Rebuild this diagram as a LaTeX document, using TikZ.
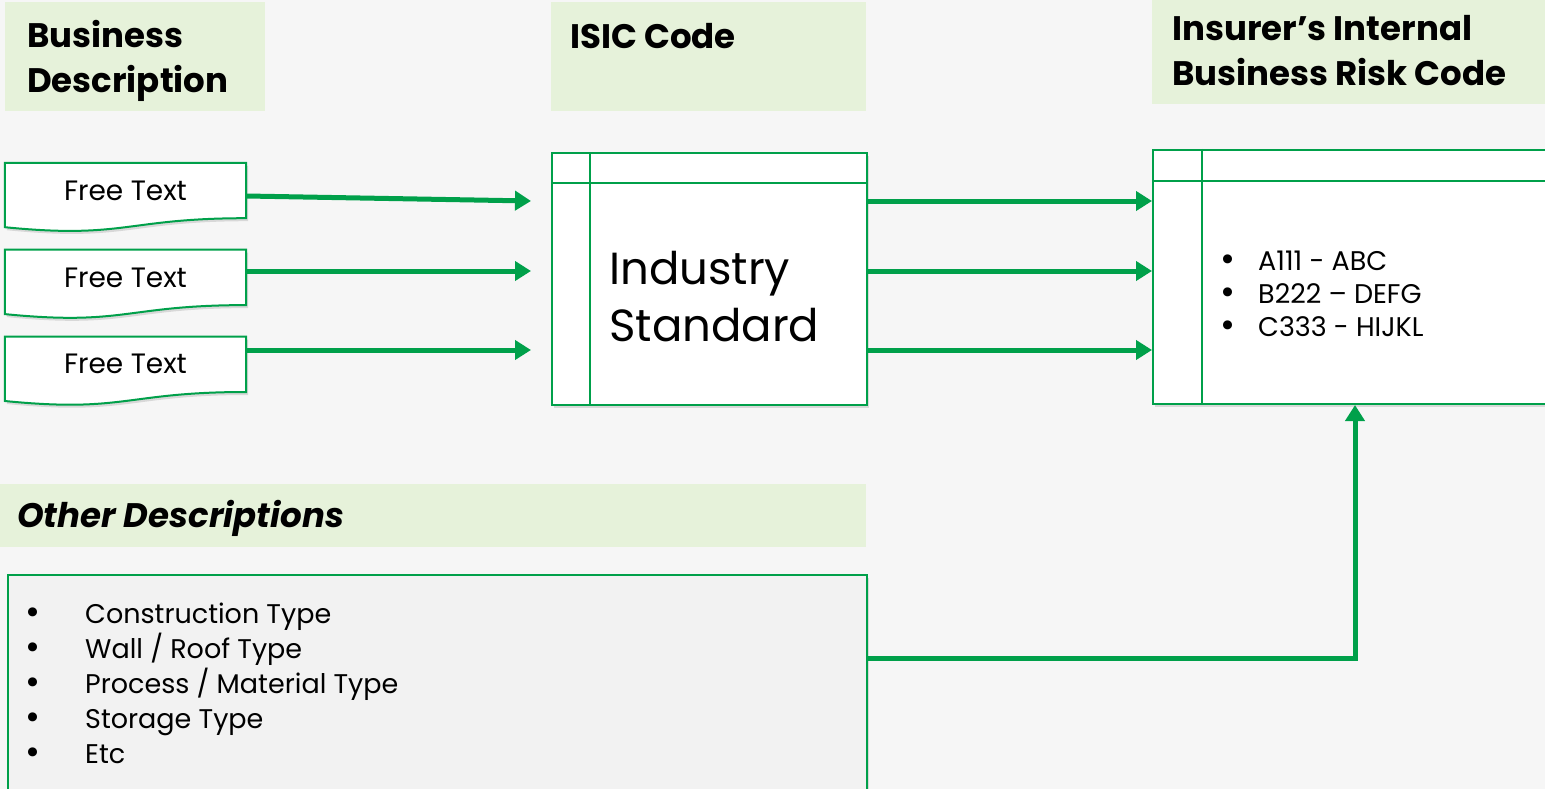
\documentclass[tikz,border=0pt]{standalone}
\usepackage{fontspec}
\setmainfont{Poppins}
\usepackage{tikz}
\usetikzlibrary{arrows.meta}
\usetikzlibrary{positioning}
\usetikzlibrary{calc}
\usetikzlibrary{shadows}
\definecolor{linecolor}{HTML}{00A04A}
\definecolor{headcolor}{HTML}{E6F2DA}
\definecolor{bgcolor}{HTML}{F6F6F6}
\definecolor{listcolor}{HTML}{F2F2F2}
\tikzset{
  headbox/.style={fill=headcolor, inner sep=0pt, anchor=north west},
  headtext/.style={font=\bfseries\fontsize{34}{45}\selectfont, align=left, anchor=west, inner sep=0pt},
  softshadow/.style={drop shadow={shadow xshift=2pt, shadow yshift=-3pt, opacity=0.25}},
  docline/.style={draw=linecolor, line width=2pt, fill=white, softshadow},
  freetext/.style={minimum width=241pt, minimum height=55pt, inner sep=0pt, font=\fontsize{28}{30}\selectfont},
  codebox/.style={draw=linecolor, line width=2pt, fill=white, anchor=north west, inner sep=0pt, softshadow},
  boxline/.style={linecolor, line width=2pt},
  feed/.style={draw=linecolor, line width=5pt, -{Triangle[length=16pt,width=19pt]}}
}
\newcommand{\bul}[1]{\makebox[#1][l]{\raisebox{-0.05em}{\scalebox{1.35}{\textbullet}}}}
\begin{document}
\begin{tikzpicture}[x=1pt,y=-1pt]
   \fill [bgcolor] (0,0) rectangle (1545,789);
   \useasboundingbox (0,0) rectangle (1545,789);
%% headings
   \node [headbox, minimum width=260pt, minimum height=109pt] (deschead) at (5,2) {};
   \node [headbox, minimum width=315pt, minimum height=109pt] (isichead) at (551,2) {};
   \node [headbox, minimum width=393pt, minimum height=104pt] (riskhead) at (1152,0) {};
   \node [headbox, minimum width=866pt, minimum height=63pt] (otherhead) at (0,484) {};
   \node [headtext] (desctext) at (27,61) {Business\\Description};
   \node [headtext] (isictext) at (570,36) {ISIC Code};
   \node [headtext] (risktext) at (1172,51) {Insurer’s Internal\\Business Risk Code};
   \node [headtext, font=\bfseries\itshape\fontsize{34}{40}\selectfont] (othertext) at (17,518) {Other Descriptions};
%% free text documents
   \node [freetext] (ft1) at (125.5,190.5) {};
   \node [freetext, below=31.5pt of ft1] (ft2) {};
   \node [freetext, below=31.5pt of ft2] (ft3) {};
   \foreach \n in {ft1,ft2,ft3}
      \draw [docline] (\n.north west) -- (\n.north east) -- (\n.south east)
         .. controls (\n.south) and ($(\n.south)+(0,21)$) .. ($(\n.south west)+(0,9)$) -- cycle;
   \foreach \n in {ft1,ft2,ft3}
      \node [freetext] at (\n) {Free Text};
%% code boxes
   \node [codebox, minimum width=315pt, minimum height=252pt] (isic) at (551,152) {};
   \draw [boxline] ($(isic.north west)+(0,31)$) -- ($(isic.north east)+(0,31)$);
   \draw [boxline] ($(isic.north west)+(39,0)$) -- ($(isic.south west)+(39,0)$);
   \node [anchor=west, align=left, inner sep=0pt, font=\fontsize{45}{57}\selectfont] (isictxt) at (609,297) {Industry\\Standard};
   \node [codebox, minimum width=400pt, minimum height=254pt] (risk) at (1152,149) {};
   \draw [boxline] ($(risk.north west)+(0,32)$) -- ($(risk.north east)+(0,32)$);
   \draw [boxline] ($(risk.north west)+(50,0)$) -- ($(risk.south west)+(50,0)$);
   \node [anchor=west, align=left, inner sep=0pt, font=\fontsize{27}{33}\selectfont] (risklist) at (1220,294)
      {\bul{38pt}A111 - ABC\\\bul{38pt}B222 – DEFG\\\bul{38pt}C333 - HIJKL};
   \node [codebox, fill=listcolor, minimum width=859pt, minimum height=230pt] (other) at (7,574) {};
   \node [anchor=west, align=left, inner sep=0pt, font=\fontsize{27}{35}\selectfont] (otherlist) at (25,684)
      {\bul{60pt}Construction Type\\\bul{60pt}Wall / Roof Type\\\bul{60pt}Process / Material Type\\\bul{60pt}Storage Type\\\bul{60pt}Etc};
%% connectors
   \coordinate (gap1) at (531,201);
   \coordinate (gap2) at (531,271);
   \coordinate (gap3) at (531,350);
   \draw [feed] ($(ft1.east)+(0,5.5)$) -- (gap1);
   \draw [feed] (ft2.east |- gap2) -- (gap2);
   \draw [feed] (ft3.east |- gap3) -- (gap3);
   \foreach \g in {gap1,gap2,gap3}
      \draw [feed] (isic.east |- \g) -- (risk.west |- \g);
   \draw [feed] ($(other.north east)+(0,84)$) -| ($(risk.south west)+(203,0)$);
\end{tikzpicture}
\end{document}
